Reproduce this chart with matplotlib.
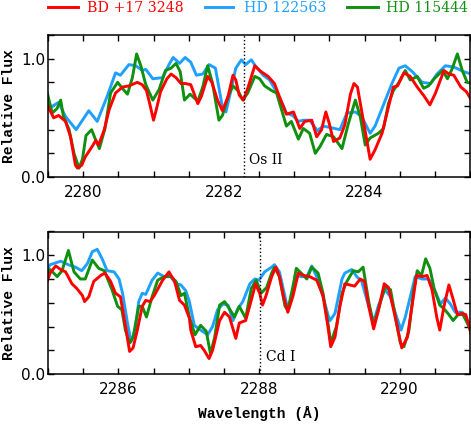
import matplotlib
matplotlib.use('Agg')
import matplotlib.pyplot as plt
from matplotlib.lines import Line2D
from matplotlib.ticker import MultipleLocator, FixedLocator

# ---- data ----
stars = ['BD +17 3248', 'HD 122563', 'HD 115444']
colors = ['#ff0000', '#1ea0ff', '#109010']

# top panel (Os II 2282.28)
top_bd_wl = [2279.46, 2279.49, 2279.58, 2279.65, 2279.75, 2279.82, 2279.89, 2279.92, 2279.98, 2280.03,
             2280.13, 2280.18, 2280.22, 2280.30, 2280.37, 2280.46, 2280.56, 2280.65, 2280.77, 2280.84,
             2280.90, 2280.95, 2281.00, 2281.04, 2281.10, 2281.19, 2281.25, 2281.32, 2281.39, 2281.45,
             2281.53, 2281.63, 2281.68, 2281.77, 2281.83, 2281.91, 2281.98, 2282.06, 2282.13, 2282.17,
             2282.22, 2282.28, 2282.34, 2282.44, 2282.53, 2282.63, 2282.72, 2282.79, 2282.89, 2282.99,
             2283.08, 2283.15, 2283.25, 2283.32, 2283.39, 2283.45, 2283.50, 2283.56, 2283.65, 2283.72,
             2283.80, 2283.85, 2283.90, 2284.00, 2284.08, 2284.15, 2284.25, 2284.34, 2284.41, 2284.47,
             2284.56, 2284.65, 2284.75, 2284.84, 2284.93, 2285.01, 2285.13, 2285.20, 2285.27, 2285.37,
             2285.45, 2285.52]
top_bd_flux = [0.62, 0.61, 0.50, 0.52, 0.47, 0.34, 0.10, 0.075, 0.10, 0.17,
               0.26, 0.31, 0.27, 0.40, 0.57, 0.71, 0.76, 0.77, 0.80, 0.78,
               0.73, 0.61, 0.48, 0.57, 0.72, 0.83, 0.87, 0.84, 0.79, 0.79,
               0.78, 0.62, 0.68, 0.85, 0.80, 0.65, 0.56, 0.68, 0.86, 0.82,
               0.69, 0.65, 0.75, 0.94, 0.89, 0.85, 0.79, 0.68, 0.53, 0.55,
               0.41, 0.47, 0.48, 0.34, 0.40, 0.55, 0.45, 0.30, 0.33, 0.44,
               0.70, 0.79, 0.76, 0.42, 0.15, 0.23, 0.37, 0.59, 0.76, 0.77,
               0.88, 0.85, 0.76, 0.69, 0.61, 0.71, 0.90, 0.87, 0.86, 0.76,
               0.72, 0.65]

top_hd122_wl = [2279.46, 2279.51, 2279.65, 2279.75, 2279.90, 2280.08, 2280.20, 2280.34, 2280.46, 2280.53,
                2280.65, 2280.75, 2280.84, 2280.89, 2280.99, 2281.13, 2281.22, 2281.28, 2281.37, 2281.45,
                2281.53, 2281.61, 2281.70, 2281.79, 2281.88, 2281.98, 2282.03, 2282.10, 2282.17, 2282.25,
                2282.31, 2282.39, 2282.46, 2282.56, 2282.65, 2282.75, 2282.84, 2282.89, 2282.98, 2283.06,
                2283.13, 2283.22, 2283.33, 2283.41, 2283.50, 2283.65, 2283.75, 2283.87, 2283.96, 2284.08,
                2284.15, 2284.27, 2284.39, 2284.49, 2284.58, 2284.68, 2284.82, 2284.94, 2285.03, 2285.15,
                2285.27, 2285.41, 2285.52]
top_hd122_flux = [0.60, 0.58, 0.63, 0.51, 0.40, 0.56, 0.47, 0.68, 0.88, 0.86,
                  0.95, 0.94, 0.90, 0.91, 0.83, 0.84, 0.95, 1.01, 0.96, 1.01,
                  0.97, 0.86, 0.87, 0.95, 0.92, 0.59, 0.55, 0.73, 0.92, 0.99,
                  0.95, 0.99, 0.93, 0.86, 0.82, 0.72, 0.61, 0.54, 0.52, 0.47,
                  0.48, 0.48, 0.39, 0.43, 0.42, 0.40, 0.54, 0.55, 0.51, 0.37,
                  0.43, 0.61, 0.79, 0.92, 0.94, 0.89, 0.80, 0.79, 0.87, 0.94,
                  0.93, 0.89, 0.87]

top_hd115_wl = [2279.46, 2279.49, 2279.56, 2279.63, 2279.68, 2279.72, 2279.80, 2279.87, 2279.94, 2279.99,
                2280.04, 2280.12, 2280.18, 2280.23, 2280.31, 2280.39, 2280.49, 2280.57, 2280.63, 2280.70,
                2280.76, 2280.82, 2280.89, 2280.99, 2281.08, 2281.17, 2281.25, 2281.32, 2281.38, 2281.44,
                2281.52, 2281.63, 2281.70, 2281.77, 2281.84, 2281.93, 2281.98, 2282.06, 2282.13, 2282.20,
                2282.27, 2282.34, 2282.44, 2282.51, 2282.58, 2282.68, 2282.75, 2282.82, 2282.89, 2282.96,
                2283.06, 2283.13, 2283.22, 2283.30, 2283.37, 2283.46, 2283.56, 2283.68, 2283.77, 2283.87,
                2283.94, 2284.01, 2284.08, 2284.20, 2284.27, 2284.34, 2284.41, 2284.49, 2284.58, 2284.65,
                2284.75, 2284.84, 2284.91, 2284.99, 2285.11, 2285.18, 2285.25, 2285.32, 2285.39, 2285.46,
                2285.52]
top_hd115_flux = [0.72, 0.71, 0.54, 0.58, 0.65, 0.51, 0.40, 0.20, 0.075, 0.15,
                  0.35, 0.40, 0.31, 0.24, 0.41, 0.71, 0.80, 0.74, 0.70, 0.84,
                  1.04, 0.94, 0.78, 0.65, 0.74, 0.90, 0.92, 0.96, 0.89, 0.65,
                  0.70, 0.64, 0.76, 0.94, 0.79, 0.48, 0.52, 0.68, 0.77, 0.73,
                  0.65, 0.71, 0.85, 0.83, 0.77, 0.73, 0.71, 0.57, 0.43, 0.47,
                  0.32, 0.41, 0.37, 0.20, 0.26, 0.36, 0.34, 0.24, 0.45, 0.65,
                  0.51, 0.27, 0.33, 0.37, 0.41, 0.62, 0.73, 0.80, 0.90, 0.82,
                  0.85, 0.75, 0.77, 0.83, 0.90, 0.83, 0.92, 1.04, 0.90, 0.80,
                  0.79]

# bottom panel (Cd I 2288.02)
bot_bd_wl = [2284.96, 2285.03, 2285.11, 2285.18, 2285.25, 2285.34, 2285.41, 2285.49, 2285.52, 2285.58,
             2285.65, 2285.75, 2285.81, 2285.89, 2285.96, 2286.03, 2286.10, 2286.16, 2286.21, 2286.27,
             2286.34, 2286.39, 2286.45, 2286.51, 2286.63, 2286.72, 2286.80, 2286.87, 2286.94, 2287.01,
             2287.03, 2287.10, 2287.17, 2287.22, 2287.29, 2287.34, 2287.44, 2287.51, 2287.58, 2287.67,
             2287.72, 2287.81, 2287.89, 2287.95, 2288.01, 2288.05, 2288.10, 2288.18, 2288.24, 2288.29,
             2288.35, 2288.41, 2288.48, 2288.56, 2288.63, 2288.72, 2288.82, 2288.91, 2288.98, 2289.02,
             2289.08, 2289.15, 2289.22, 2289.29, 2289.36, 2289.44, 2289.50, 2289.56, 2289.63, 2289.70,
             2289.78, 2289.84, 2289.91, 2289.99, 2290.03, 2290.11, 2290.18, 2290.24, 2290.32, 2290.39,
             2290.46, 2290.53, 2290.57, 2290.63, 2290.70, 2290.75, 2290.82, 2290.89, 2290.94, 2290.99,
             2291.03]
bot_bd_flux = [0.73, 0.85, 0.91, 0.88, 0.86, 0.76, 0.72, 0.66, 0.61, 0.65,
               0.78, 0.83, 0.85, 0.78, 0.68, 0.65, 0.41, 0.19, 0.22, 0.37,
               0.57, 0.62, 0.61, 0.66, 0.79, 0.86, 0.78, 0.62, 0.58, 0.47,
               0.37, 0.23, 0.24, 0.20, 0.13, 0.20, 0.45, 0.52, 0.48, 0.30,
               0.43, 0.45, 0.62, 0.76, 0.68, 0.58, 0.66, 0.82, 0.90, 0.82,
               0.65, 0.52, 0.65, 0.85, 0.83, 0.82, 0.79, 0.66, 0.40, 0.23,
               0.31, 0.57, 0.76, 0.75, 0.74, 0.80, 0.78, 0.57, 0.38, 0.54,
               0.76, 0.73, 0.55, 0.33, 0.22, 0.31, 0.59, 0.83, 0.82, 0.83,
               0.71, 0.47, 0.37, 0.57, 0.75, 0.65, 0.50, 0.51, 0.50, 0.40,
               0.29]

bot_hd122_wl = [2284.96, 2285.03, 2285.18, 2285.29, 2285.39, 2285.48, 2285.56, 2285.63, 2285.70, 2285.77,
                2285.84, 2285.94, 2286.01, 2286.06, 2286.13, 2286.18, 2286.24, 2286.29, 2286.34, 2286.39,
                2286.48, 2286.56, 2286.65, 2286.73, 2286.82, 2286.89, 2286.96, 2287.01, 2287.08, 2287.17,
                2287.27, 2287.34, 2287.41, 2287.49, 2287.56, 2287.63, 2287.70, 2287.77, 2287.87, 2287.94,
                2288.00, 2288.08, 2288.18, 2288.22, 2288.29, 2288.37, 2288.41, 2288.48, 2288.53, 2288.60,
                2288.68, 2288.75, 2288.82, 2288.91, 2288.98, 2289.01, 2289.08, 2289.18, 2289.22, 2289.32,
                2289.39, 2289.46, 2289.56, 2289.63, 2289.70, 2289.79, 2289.87, 2289.94, 2290.02, 2290.08,
                2290.18, 2290.22, 2290.32, 2290.41, 2290.51, 2290.58, 2290.65, 2290.72, 2290.79, 2290.89,
                2290.96, 2291.03]
bot_hd122_flux = [0.85, 0.92, 0.95, 0.92, 0.90, 0.87, 0.93, 1.03, 1.05, 0.97,
                  0.87, 0.86, 0.80, 0.68, 0.43, 0.27, 0.37, 0.61, 0.68, 0.67,
                  0.79, 0.85, 0.82, 0.83, 0.76, 0.75, 0.70, 0.61, 0.41, 0.37,
                  0.33, 0.40, 0.54, 0.59, 0.58, 0.45, 0.55, 0.61, 0.76, 0.80,
                  0.79, 0.86, 0.90, 0.92, 0.86, 0.65, 0.54, 0.68, 0.83, 0.82,
                  0.82, 0.91, 0.82, 0.65, 0.50, 0.45, 0.51, 0.80, 0.85, 0.88,
                  0.82, 0.78, 0.57, 0.44, 0.58, 0.71, 0.65, 0.51, 0.37, 0.48,
                  0.72, 0.82, 0.80, 0.80, 0.69, 0.59, 0.64, 0.59, 0.52, 0.52,
                  0.45, 0.33]

bot_hd115_wl = [2284.96, 2285.03, 2285.13, 2285.20, 2285.29, 2285.37, 2285.46, 2285.53, 2285.63, 2285.72,
                2285.80, 2285.91, 2285.99, 2286.05, 2286.10, 2286.16, 2286.21, 2286.29, 2286.34, 2286.40,
                2286.48, 2286.56, 2286.65, 2286.75, 2286.82, 2286.89, 2286.94, 2287.01, 2287.09, 2287.17,
                2287.25, 2287.31, 2287.37, 2287.44, 2287.51, 2287.58, 2287.65, 2287.72, 2287.81, 2287.89,
                2287.96, 2288.03, 2288.11, 2288.18, 2288.22, 2288.29, 2288.37, 2288.41, 2288.48, 2288.53,
                2288.60, 2288.68, 2288.75, 2288.84, 2288.91, 2288.98, 2289.02, 2289.10, 2289.18, 2289.25,
                2289.34, 2289.41, 2289.48, 2289.56, 2289.63, 2289.70, 2289.79, 2289.87, 2289.94, 2290.01,
                2290.06, 2290.13, 2290.20, 2290.25, 2290.31, 2290.37, 2290.43, 2290.49, 2290.57, 2290.63,
                2290.70, 2290.76, 2290.83, 2290.90, 2290.96, 2291.03]
bot_hd115_flux = [0.79, 0.88, 0.82, 0.87, 1.04, 0.86, 0.80, 0.80, 0.96, 0.89,
                  0.87, 0.71, 0.57, 0.54, 0.37, 0.26, 0.31, 0.57, 0.57, 0.48,
                  0.65, 0.79, 0.82, 0.82, 0.78, 0.66, 0.68, 0.48, 0.33, 0.41,
                  0.36, 0.17, 0.31, 0.58, 0.61, 0.55, 0.48, 0.57, 0.47, 0.72,
                  0.79, 0.68, 0.73, 0.85, 0.90, 0.82, 0.57, 0.54, 0.73, 0.89,
                  0.85, 0.80, 0.90, 0.85, 0.68, 0.43, 0.26, 0.40, 0.68, 0.78,
                  0.87, 0.86, 0.90, 0.61, 0.41, 0.55, 0.73, 0.71, 0.48, 0.26,
                  0.23, 0.36, 0.71, 0.87, 0.83, 0.97, 0.89, 0.72, 0.58, 0.55,
                  0.50, 0.45, 0.50, 0.50, 0.43, 0.34]

panels = [
    dict(xlim=(2279.5, 2285.5), line=2282.28, label='Os II', lab_x=2282.36, lab_y=0.14,
         series=[(top_hd122_wl, top_hd122_flux, 1), (top_hd115_wl, top_hd115_flux, 2),
                 (top_bd_wl, top_bd_flux, 0)]),
    dict(xlim=(2285.0, 2291.0), line=2288.01, label='Cd I', lab_x=2288.10, lab_y=0.145,
         series=[(bot_hd122_wl, bot_hd122_flux, 1), (bot_hd115_wl, bot_hd115_flux, 2),
                 (bot_bd_wl, bot_bd_flux, 0)]),
]

W, H = 471, 425
fig = plt.figure(figsize=(W / 100, H / 100), dpi=100)
axes_px = [(48, 35, 470, 177), (48, 231.5, 470, 374)]
mono = ['Liberation Mono', 'DejaVu Sans Mono']

for p, (x0, y0, x1, y1) in zip(panels, axes_px):
    ax = fig.add_axes([x0 / W, 1 - y1 / H, (x1 - x0) / W, (y1 - y0) / H])
    for wl, fl, k in p['series']:
        ax.plot(wl, fl, color=colors[k], lw=2.1, solid_joinstyle='round')
    ax.axvline(p['line'], color='black', ls=':', lw=1.0)
    ax.text(p['lab_x'], p['lab_y'], p['label'], fontsize=10, family='DejaVu Serif',
            ha='left', va='center')
    ax.set_xlim(*p['xlim'])
    ax.set_ylim(0, 1.2)
    ax.xaxis.set_major_locator(MultipleLocator(2))
    ax.xaxis.set_minor_locator(MultipleLocator(0.5))
    ax.yaxis.set_major_locator(FixedLocator([0.0, 1.0]))
    ax.yaxis.set_minor_locator(MultipleLocator(0.2))
    ax.yaxis.set_major_formatter(plt.FormatStrFormatter('%.1f'))
    ax.xaxis.set_major_formatter(plt.FormatStrFormatter('%d'))
    ax.tick_params(which='both', direction='in', top=True, right=True, width=1.0)
    ax.tick_params(which='major', length=4.5)
    ax.tick_params(which='minor', length=4)
    ax.tick_params(axis='x', which='major', pad=6, labelsize=11)
    ax.tick_params(axis='y', which='major', pad=2, labelsize=11)
    for s in ax.spines.values():
        s.set_linewidth(1.1)
    ax.set_ylabel('Relative Flux', family=mono, fontweight='bold', fontsize=10.5, labelpad=4)
    if p is panels[1]:
        ax.set_xlabel('Wavelength (Å)', family=mono, fontweight='bold', fontsize=10.5, labelpad=6)

# legend row at the top
leg_y = 1 - 7.5 / H
leg = [(48, 78, 87), (205, 233, 244), (347, 378, 386)]
for (lx0, lx1, tx), name, c in zip(leg, stars, colors):
    fig.add_artist(Line2D([lx0 / W, lx1 / W], [1 - 6.5 / H, 1 - 6.5 / H], color=c, lw=2.1))
    fig.text(tx / W, leg_y, name, color=c, fontsize=10.2, family='DejaVu Serif',
             ha='left', va='center')

fig.savefig('out.png', dpi=100)
